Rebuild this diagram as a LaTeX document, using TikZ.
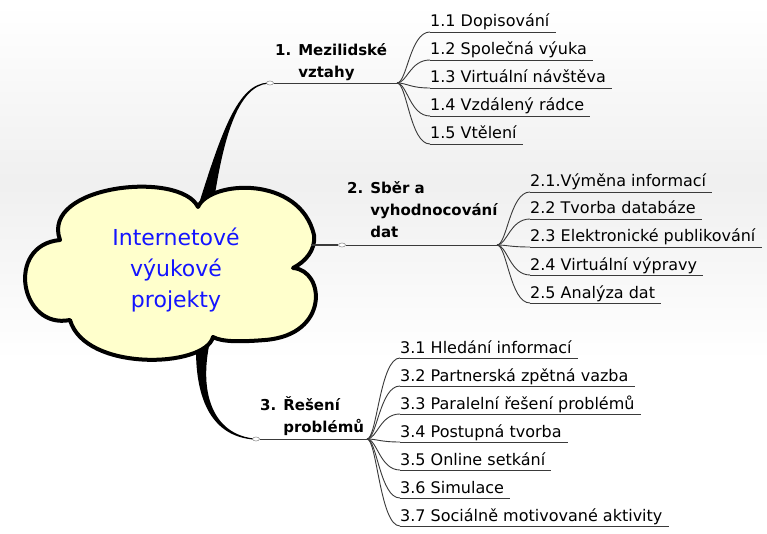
\documentclass[tikz,border=0pt]{standalone}
\usepackage{fontspec}
\setmainfont{DejaVu Sans}
\usetikzlibrary{shapes.geometric}
\definecolor{cloudfill}{HTML}{FFFFCC}
\definecolor{rootblue}{HTML}{1414FF}
\definecolor{linegray}{HTML}{3A3A3A}
\begin{document}
\begin{tikzpicture}[x=1pt,y=-1pt,
  leaf/.style={font=\fontsize{16}{19}\selectfont, inner sep=0pt, anchor=base west, text=black},
  topic/.style={font=\bfseries\fontsize{15}{22}\selectfont, align=left, inner sep=0pt, anchor=base west},
  uline/.style={draw=linegray, line width=0.9pt},
  twig/.style={draw=linegray, line width=0.9pt},
  marker/.style={ellipse, draw=gray, fill=white, line width=0.5pt, minimum width=7pt, minimum height=4pt, inner sep=0pt},
  tail/.style={fill=black}]
\useasboundingbox (0,0) rectangle (767,534);
\fill[white] (0,0) rectangle (767,534);
\shade[top color=white, bottom color=white, middle color=black!6] (0,5) rectangle (767,360);

% tails
\fill[tail] (197,210) .. controls (222,130) and (238,84) .. (268,82.6)
  -- (268,83.6) .. controls (238,86) and (224,138) .. (215,194) -- cycle;
\fill[tail] (196,350) .. controls (196,400) and (212,437) .. (255,439.6)
  -- (255,438.6) .. controls (216,435) and (199,398) .. (209,346) -- cycle;

% cloud
\draw[line width=4pt, line join=round, fill=cloudfill]
  (198,207) .. controls (210,180) and (300,175) .. (314,235)
  .. controls (316,250) and (305,262) .. (293,268)
  .. controls (325,270) and (330,335) .. (265,340)
  .. controls (240,342) and (222,342) .. (213,337)
  .. controls (205,368) and (85,372) .. (70,320)
  .. controls (20,330) and (5,245) .. (60,240)
  .. controls (40,185) and (180,170) .. (198,207) -- cycle;
\node[font=\fontsize{22}{31}\selectfont, text=rootblue, align=center] (root) at (176,270) {Internetové\\výukové\\projekty};

% branch 1
\node[marker] (m1) at (270,83) {};
\coordinate (h1) at (397,83);
\draw[twig] (m1.east) -- (h1);
\node[topic] (l1) at (275,78) {1. Mezilidské\\\hphantom{1. }vztahy};
\foreach \n/\y/\t in {11/32/{1.1 Dopisování}, 12/60/{1.2 Společná výuka}, 13/88/{1.3 Virtuální návštěva}, 14/116/{1.4 Vzdálený rádce}, 15/144/{1.5 Vtělení}}{
  \node[leaf] (c\n) at (430,\y-5) {\t};
  \draw[uline] ([yshift=-5pt]c\n.base west) -- ([yshift=-5pt,xshift=6pt]c\n.base east);
  \draw[twig] (h1) .. controls +(10,0) and +(-20,0) .. ([yshift=-5pt]c\n.base west);
}

% branch 2
\coordinate (s2) at (311,245);
\node[marker] (m2) at (342,245) {};
\coordinate (h2) at (497,245);
\draw[twig, line width=1.4pt] (s2) -- (m2.west);
\draw[twig] (m2.east) -- (h2);
\node[topic] (l2) at (347,238) {2. Sběr a\\\hphantom{2. }vyhodnocování\\\hphantom{2. }dat};
\foreach \n/\y/\t in {21/192/{2.1.Výměna informací}, 22/219/{2.2 Tvorba databáze}, 23/247/{2.3 Elektronické publikování}, 24/275/{2.4 Virtuální výpravy}, 25/303/{2.5 Analýza dat}}{
  \node[leaf] (c\n) at (530,\y-5) {\t};
  \draw[uline] ([yshift=-5pt]c\n.base west) -- ([yshift=-5pt,xshift=6pt]c\n.base east);
  \draw[twig] (h2) .. controls +(10,0) and +(-20,0) .. ([yshift=-5pt]c\n.base west);
}

% branch 3
\node[marker] (m3) at (256,439) {};
\coordinate (h3) at (367,439);
\draw[twig] (m3.east) -- (h3);
\node[topic] (l3) at (260,432) {3. Řešení\\\hphantom{3. }problémů};
\foreach \n/\y/\t in {31/358/{3.1 Hledání informací}, 32/386/{3.2 Partnerská zpětná vazba}, 33/414/{3.3 Paralelní řešení problémů}, 34/442/{3.4 Postupná tvorba}, 35/470/{3.5 Online setkání}, 36/498/{3.6 Simulace}, 37/526/{3.7 Sociálně motivované aktivity}}{
  \node[leaf] (c\n) at (400,\y-5) {\t};
  \draw[uline] ([yshift=-5pt]c\n.base west) -- ([yshift=-5pt,xshift=6pt]c\n.base east);
  \draw[twig] (h3) .. controls +(10,0) and +(-20,0) .. ([yshift=-5pt]c\n.base west);
}
\end{tikzpicture}
\end{document}
